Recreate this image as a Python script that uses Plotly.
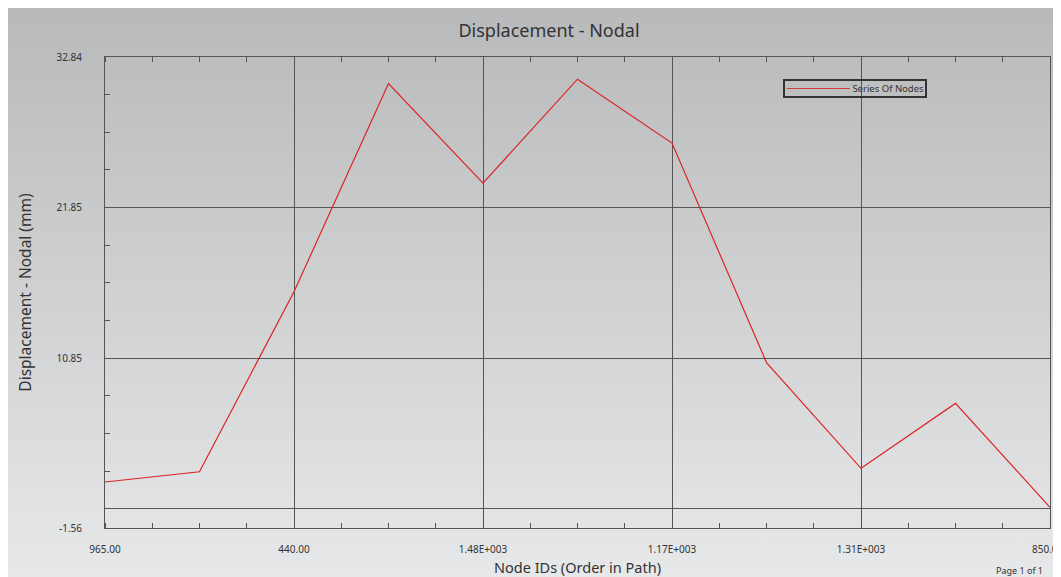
import base64
import plotly.graph_objects as go

# ---- data ----
path_order = list(range(11))
displacement = [1.80, 2.55, 15.70, 30.90, 23.62, 31.22, 26.55, 10.52, 2.80, 7.54, -0.05]
tick_positions = [0, 2, 4, 6, 8, 10]
tick_labels = ["965.00", "440.00", "1.48E+003", "1.17E+003", "1.31E+003", "850.0"]
y_label_vals = [-1.56, 10.85, 21.85, 32.84]
y_label_text = ["-1.56", "10.85", "21.85", "32.84"]
y_grid_vals = [-0.15, 10.85, 21.85, 32.85]
series_name = "Series Of Nodes"

# ---- geometry (figure pixels; page has an 8px body margin) ----
W, H = 1053, 569
L, R, T, B = 97, 11, 49, 49
PW, PH = W - L - R, H - T - B

FONT = "Noto Sans"
GRID = "#555555"
RED = "#dc2424"
TXT = "#333333"

svg = (
    '<svg xmlns="http://www.w3.org/2000/svg" width="100" height="100" preserveAspectRatio="none">'
    '<defs><linearGradient id="g" x1="0" y1="0" x2="0" y2="1">'
    '<stop offset="0" stop-color="#b8b9bb"/><stop offset="1" stop-color="#e7e8ea"/>'
    '</linearGradient></defs><rect width="100" height="100" fill="url(#g)"/></svg>'
)
bg_src = "data:image/svg+xml;base64," + base64.b64encode(svg.encode()).decode()

fig = go.Figure()
fig.add_trace(go.Scatter(
    x=path_order, y=displacement, mode="lines", name=series_name,
    line=dict(color=RED, width=1.2), showlegend=False,
))
# invisible trace to carry the grid axis
fig.add_trace(go.Scatter(
    x=path_order, y=displacement, mode="lines", yaxis="y2",
    line=dict(color="rgba(0,0,0,0)", width=0), showlegend=False, hoverinfo="skip",
))

legend_text = (
    '<span style="color:%s;font-family:DejaVu Sans Mono">%s</span> %s'
    % (RED, "\u2500" * 11, series_name)
)

# last tick label is drawn as an annotation so it stays inside the page edge
shown_tick_text = tick_labels[:-1] + [""]

fig.update_layout(
    width=W, height=H,
    margin=dict(l=L, r=R, t=T, b=B, autoexpand=False),
    paper_bgcolor="white",
    plot_bgcolor="rgba(0,0,0,0)",
    images=[dict(
        source=bg_src, xref="paper", yref="paper",
        x=-L / PW, y=(H - B) / PH,
        sizex=W / PW, sizey=H / PH,
        xanchor="left", yanchor="top", sizing="stretch", layer="below",
    )],
    title=dict(
        text="Displacement - Nodal", x=541 / W, xref="container", xanchor="center",
        y=1 - 23 / H, yref="container", yanchor="middle",
        font=dict(family=FONT, size=18, color=TXT),
    ),
    xaxis=dict(
        automargin=False,
        range=[0, 10], tickmode="array", tickvals=tick_positions, ticktext=shown_tick_text,
        showgrid=True, gridcolor=GRID, gridwidth=1,
        showline=True, linecolor=GRID, linewidth=1, mirror="allticks",
        ticks="", zeroline=False,
        minor=dict(tickmode="linear", tick0=0, dtick=0.5, ticks="inside", ticklen=5,
                   tickcolor=GRID, showgrid=False),
        tickfont=dict(family=FONT, size=10, color=TXT),
        ticklabelstandoff=12,
        title=dict(text="Node IDs (Order in Path)", standoff=8,
                   font=dict(family=FONT, size=14.5, color=TXT)),
    ),
    yaxis=dict(
        automargin=False,
        range=[-1.56, 32.84], tickmode="array", tickvals=y_label_vals, ticktext=y_label_text,
        showgrid=False, zeroline=False, ticks="", ticklabeloverflow="allow",
        showline=True, linecolor=GRID, linewidth=1, mirror=True,
        tickfont=dict(family=FONT, size=10, color=TXT),
        ticklabelstandoff=20,
        title=dict(text="Displacement - Nodal (mm)", standoff=21,
                   font=dict(family=FONT, size=15.5, color=TXT)),
    ),
    yaxis2=dict(
        automargin=False,
        range=[-1.56, 32.84], overlaying="y", side="left", anchor="x",
        tickmode="array", tickvals=y_grid_vals, showticklabels=False,
        showgrid=True, gridcolor=GRID, gridwidth=1, zeroline=False,
        ticks="", showline=False, mirror="allticks",
        minor=dict(tickmode="linear", tick0=-0.15, dtick=2.75, ticks="inside", ticklen=5,
                   tickcolor=GRID, showgrid=False),
    ),
    annotations=[
        dict(
            text=tick_labels[-1], xref="x", yref="paper",
            x=tick_positions[-1], y=0, xanchor="right", yanchor="top",
            xshift=10, yshift=-12,
            showarrow=False, font=dict(family=FONT, size=10, color=TXT),
        ),
        dict(
            text=legend_text, xref="paper", yref="paper",
            x=(775 - L) / PW, y=(H - B - 71) / PH, xanchor="left", yanchor="top",
            showarrow=False, align="left",
            bordercolor=TXT, borderwidth=2, borderpad=1,
            bgcolor="rgba(0,0,0,0)",
            font=dict(family=FONT, size=9.5, color=TXT),
        ),
        dict(
            text="Page 1 of 1", xref="paper", yref="paper",
            x=(1037 - L) / PW, y=(H - B - 562) / PH, xanchor="right", yanchor="middle",
            showarrow=False, font=dict(family=FONT, size=9, color=TXT),
        ),
    ],
    showlegend=False,
)

fig.write_html("out.html")
